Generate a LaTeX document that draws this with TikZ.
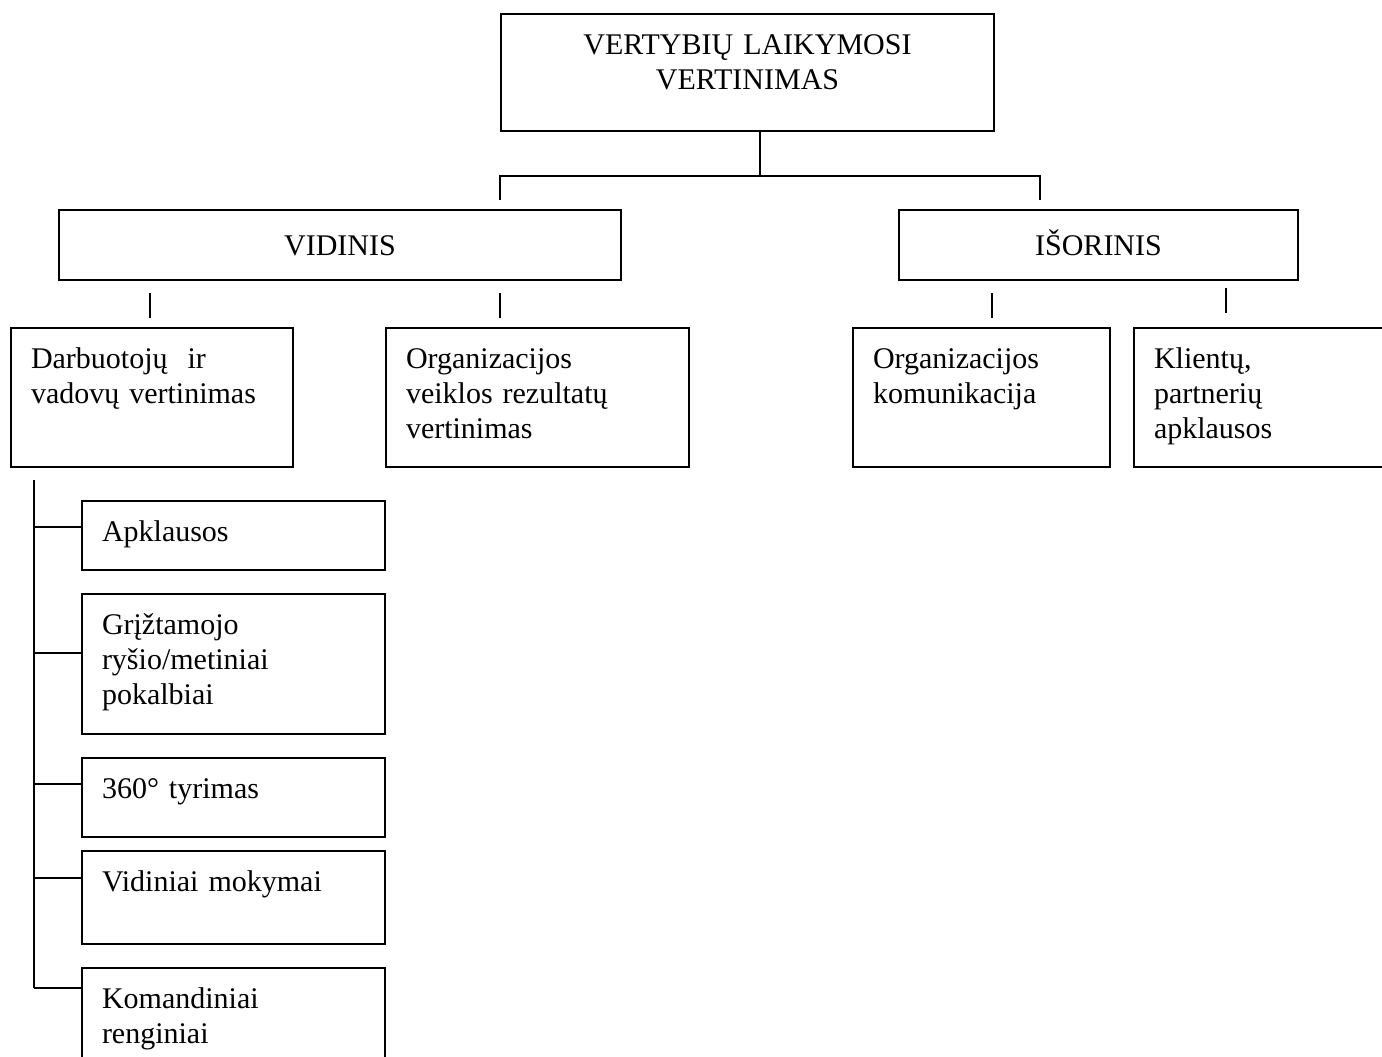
\documentclass[tikz,border=0pt]{standalone}
\usepackage{fontspec}
\setmainfont{Liberation Serif}
\tikzset{every node/.style={font=\fontsize{12}{14}\selectfont}}
\begin{document}
\begin{tikzpicture}[x=0.4pt, y=-0.4pt, line width=0.8pt,
  box/.style={draw, anchor=north west, inner xsep=8pt, inner ysep=7pt, text height=9pt, align=left},
  headbox/.style={draw, anchor=north west, minimum height=28pt, text height=8pt, text depth=0pt}]
\useasboundingbox (0,0) rectangle (1382,1056);

\node[box, align=center, text width=181.2pt, text depth=23.8pt] (top) at (500,13) {VERTYBIŲ LAIKYMOSI\\VERTINIMAS};

\node[headbox, minimum width=224.8pt] (vid) at (58,209) {VIDINIS};
\node[headbox, minimum width=159.6pt] (isor) at (898,209) {IŠORINIS};

\node[box, text width=96.8pt, text depth=32.6pt] (darb) at (10,327) {Darbuotojų \ ir\\vadovų vertinimas};
\node[box, text width=105.2pt, text depth=32.6pt] (veikl) at (385,327) {Organizacijos\\veiklos rezultatų\\vertinimas};
\node[box, text width=86.8pt, text depth=32.6pt] (komun) at (852,327) {Organizacijos\\komunikacija};
\node[box, text width=88pt, text depth=32.6pt] (klient) at (1133,327) {Klientų,\\partnerių\\apklausos};

\node[box, text width=105.2pt, text depth=4.6pt] (apkl) at (81,500) {Apklausos};
\node[box, text width=105.2pt, text depth=33pt] (grizt) at (81,593) {Grįžtamojo\\ryšio/metiniai\\pokalbiai};
\node[box, text width=105.2pt, text depth=8.6pt] (t360) at (81,757) {360° tyrimas};
\node[box, text width=105.2pt, text depth=14.2pt] (vidm) at (81,850) {Vidiniai mokymai};
\node[box, text width=105.2pt, text depth=21pt] (koman) at (81,967) {Komandiniai\\renginiai};

% upper fork
\coordinate (fork) at (760,176);
\coordinate (dropL) at (500,200);
\coordinate (dropR) at (1040,200);
\draw (top.south -| fork) -- (fork);
\draw (dropL) |- (fork) -| (dropR);

% short ticks above the second row
\foreach \x/\y in {150/293, 500/293, 992/293, 1226/288}
  \draw (\x,\y) -- ++(0,25);

% left trunk
\coordinate (trunk) at (34,480);
\draw (trunk) -- (trunk |- 0,988);
\foreach \n/\y in {apkl/527, grizt/653, t360/784, vidm/878, koman/988}
  \draw (trunk |- 0,\y) -- (\n.west |- 0,\y);
\end{tikzpicture}
\end{document}
